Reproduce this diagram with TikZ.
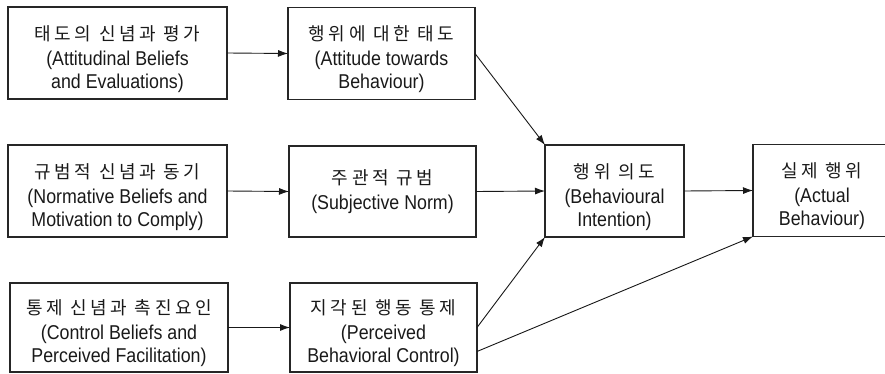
\documentclass[tikz,border=0pt]{standalone}
\usepackage{fontspec}
\setmainfont{Liberation Sans}[FakeStretch=0.89]
\newfontfamily\krfont{Noto Sans CJK KR}[LetterSpace=20]
\newcommand\kor[1]{{\krfont\fontsize{18}{23}\selectfont\rule{0pt}{27pt}#1}\\[2pt]}
\newcommand\korplain[1]{{\krfont\fontsize{18}{23}\selectfont #1}\\[2pt]}
\usetikzlibrary{arrows.meta,calc}
\tikzset{
  box/.style={draw=black!85, line width=1.1pt, align=center, inner sep=0pt, outer sep=0pt,
    font=\fontsize{20}{23}\selectfont, text=black!90},
  wideL/.style={box, minimum width=219pt, minimum height=92pt},
  wideM/.style={box, minimum width=187pt, minimum height=92pt},
  narrow/.style={box, minimum width=139pt, minimum height=92pt},
  conn/.style={draw=black!90, line width=0.9pt, -{Latex[length=10pt,width=7pt]}}
}
\begin{document}
\begin{tikzpicture}[x=1pt,y=-1pt]
\useasboundingbox (0,0) rectangle (885,374);
\clip (0,0) rectangle (885,374);
\node[wideL] (b1) at (117.5,53) {\kor{태도의 신념과 평가}(Attitudinal Beliefs\\and Evaluations)};
\node[wideM] (b2) at (381.5,53.5) {\kor{행위에 대한 태도}(Attitude towards\\Behaviour)};
\node[wideL] (b3) at (117.5,191) {\kor{규범적 신념과 동기}(Normative Beliefs and\\Motivation to Comply)};
\node[wideM, minimum height=91pt] (b4) at (382.5,191.5) {\korplain{주관적 규범}(Subjective Norm)};
\node[wideL, minimum width=218pt, minimum height=89pt] (b5) at (119,327.5) {\kor{통제 신념과 촉진요인}(Control Beliefs and\\Perceived Facilitation)};
\node[wideM, minimum height=89pt] (b6) at (383.5,327.5) {\kor{지각된 행동 통제}(Perceived\\Behavioral Control)};
\node[narrow] (b7) at (614.5,191) {\kor{행위 의도}(Behavioural\\Intention)};
\node[narrow, minimum width=138pt] (b8) at (822,190.5) {\kor{실제 행위}(Actual\\Behaviour)};
\draw[conn] (b1.east) -- (b2.west);
\draw[conn] (b3.east) -- (b4.west);
\draw[conn] (b5.east) -- (b6.west);
\draw[conn] (b2.east) -- (b7.north west);
\draw[conn] (b4.east) -- (b7.west);
\draw[conn] (b6.east) -- (b7.south west);
\draw[conn] ([yshift=-24pt]b6.east) -- (b8.south west);
\draw[conn] (b7.east) -- (b8.west);
\end{tikzpicture}
\end{document}
